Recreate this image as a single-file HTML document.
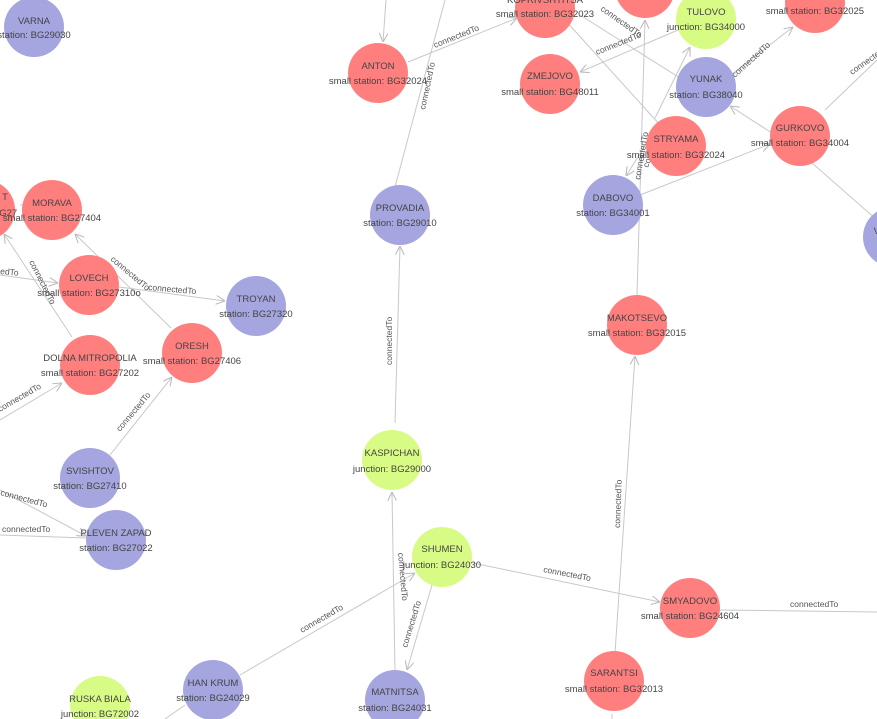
<!DOCTYPE html>
<html><head><meta charset="utf-8"><style>
html,body{margin:0;padding:0;background:#fff;width:877px;height:719px;overflow:hidden}
svg{display:block;font-family:"Liberation Sans",sans-serif}
.e{stroke:#c8c8c8;stroke-width:1;fill:none}
.l{font-size:8.5px;fill:#555}
.n text{font-size:9.5px;fill:#444;text-anchor:middle}
.r{fill:#ff7f7f}.b{fill:#a5a5df}.g{fill:#d8fb86}
</style></head><body>
<svg width="877" height="719" viewBox="0 0 877 719">
<defs><marker id="a" viewBox="0 0 10 10" refX="10" refY="5" markerWidth="9" markerHeight="9" orient="auto"><path d="M0,0 L10,5 L0,10" fill="none" stroke="#bbb" stroke-width="1.2"/></marker></defs>
<g class="e">
<line x1="386" y1="0" x2="383" y2="42" marker-end="url(#a)"/>
<line x1="445" y1="0" x2="395" y2="187"/>
<line x1="408" y1="62" x2="517" y2="18" marker-end="url(#a)"/>
<line x1="395" y1="423" x2="400" y2="246" marker-end="url(#a)"/>
<line x1="395" y1="670" x2="392" y2="492" marker-end="url(#a)"/>
<line x1="432" y1="585" x2="407" y2="670" marker-end="url(#a)"/>
<line x1="240" y1="675" x2="415" y2="573" marker-end="url(#a)"/>
<line x1="473" y1="563" x2="660" y2="602" marker-end="url(#a)"/>
<line x1="719" y1="610" x2="877" y2="612"/>
<line x1="615" y1="653" x2="635" y2="356" marker-end="url(#a)"/>
<line x1="612" y1="719" x2="612" y2="714"/>
<line x1="637" y1="295" x2="645" y2="20" marker-end="url(#a)"/>
<line x1="640" y1="195" x2="770" y2="144" marker-end="url(#a)"/>
<line x1="727" y1="78" x2="793" y2="27" marker-end="url(#a)"/>
<line x1="825" y1="110" x2="877" y2="60"/>
<line x1="775" y1="135" x2="730" y2="106" marker-end="url(#a)"/>
<line x1="812" y1="163" x2="877" y2="220"/>
<line x1="678" y1="30" x2="580" y2="72" marker-end="url(#a)"/>
<line x1="565" y1="20" x2="660" y2="125"/>
<line x1="580" y1="15" x2="680" y2="78"/>
<line x1="655" y1="118" x2="690" y2="47" marker-end="url(#a)"/>
<line x1="660" y1="122" x2="626" y2="176" marker-end="url(#a)"/>
<line x1="72" y1="337" x2="4" y2="234" marker-end="url(#a)"/>
<line x1="171" y1="328" x2="75" y2="234" marker-end="url(#a)"/>
<line x1="119" y1="287" x2="225" y2="301" marker-end="url(#a)"/>
<line x1="0" y1="275" x2="58" y2="283" marker-end="url(#a)"/>
<line x1="0" y1="420" x2="62" y2="383" marker-end="url(#a)"/>
<line x1="110" y1="455" x2="172" y2="377" marker-end="url(#a)"/>
<line x1="0" y1="490" x2="86" y2="536" marker-end="url(#a)"/>
<line x1="0" y1="535" x2="86" y2="538"/>
<line x1="20" y1="205" x2="25" y2="205"/>
<line x1="165" y1="719" x2="185" y2="705"/>
</g>
<g class="l">
<text transform="translate(435,48) rotate(-22)">connectedTo</text>
<text transform="translate(425,110) rotate(-78)">connectedTo</text>
<text transform="translate(392,365) rotate(-90)">connectedTo</text>
<text transform="translate(398,553) rotate(85)">connectedTo</text>
<text transform="translate(407,648) rotate(-73)">connectedTo</text>
<text transform="translate(302,633) rotate(-30)">connectedTo</text>
<text transform="translate(543,572) rotate(11)">connectedTo</text>
<text x="790" y="607">connectedTo</text>
<text transform="translate(620,528) rotate(-88)">connectedTo</text>
<text transform="translate(597,55) rotate(-22)">connectedTo</text>
<text transform="translate(735,78) rotate(-42)">connectedTo</text>
<text transform="translate(852,75) rotate(-35)">connectedTo</text>
<text transform="translate(640,180) rotate(-80)">connectedTo</text>
<text transform="translate(648,168) rotate(-70)">connectedTo</text>
<text transform="translate(600,10) rotate(35)">connectedTo</text>
<text transform="translate(110,260) rotate(40)">connectedTo</text>
<text transform="translate(29,262) rotate(63)">connectedTo</text>
<text transform="translate(148,290) rotate(5)">connectedTo</text>
<text transform="translate(120,432) rotate(-50)">connectedTo</text>
<text transform="translate(0,412) rotate(-30)">connectedTo</text>
<text transform="translate(0,495) rotate(15)">connectedTo</text>
<text x="2" y="532">connectedTo</text>
<text transform="translate(0,274) rotate(5)">edTo</text>
</g>
<g class="n">
<circle class="b" cx="34" cy="27" r="30"/><text x="34" y="24">VARNA</text><text x="34" y="38">station: BG29030</text>
<circle class="r" cx="378" cy="73" r="30"/><text x="378" y="69">ANTON</text><text x="378" y="84">small station: BG32024</text>
<circle class="r" cx="545" cy="8" r="30"/><text x="545" y="3">KOPRIVSHTITSA</text><text x="545" y="17">small station: BG32023</text>
<circle class="r" cx="645" cy="-12" r="30"/>
<circle class="g" cx="706" cy="19" r="30"/><text x="706" y="15">TULOVO</text><text x="706" y="30">junction: BG34000</text>
<circle class="r" cx="815" cy="3" r="30"/><text x="815" y="14">small station: BG32025</text>
<circle class="r" cx="550" cy="84" r="30"/><text x="550" y="79">ZMEJOVO</text><text x="550" y="95">small station: BG48011</text>
<circle class="b" cx="706" cy="87" r="30"/><text x="706" y="82">YUNAK</text><text x="706" y="98">station: BG38040</text>
<circle class="r" cx="676" cy="146" r="30"/><text x="676" y="142">STRYAMA</text><text x="676" y="158">small station: BG32024</text>
<circle class="r" cx="800" cy="136" r="30"/><text x="800" y="131">GURKOVO</text><text x="800" y="146">small station: BG34004</text>
<circle class="b" cx="613" cy="205" r="30"/><text x="613" y="201">DABOVO</text><text x="613" y="216">station: BG34001</text>
<circle class="b" cx="893" cy="237" r="30"/><text x="880" y="234">VE</text>
<circle class="b" cx="400" cy="215" r="30"/><text x="400" y="211">PROVADIA</text><text x="400" y="226">station: BG29010</text>
<circle class="r" cx="-15" cy="210" r="30"/><text x="5" y="200">T</text><text x="5" y="216">BG27</text>
<circle class="r" cx="52" cy="210" r="30"/><text x="52" y="206">MORAVA</text><text x="52" y="221">small station: BG27404</text>
<circle class="r" cx="89" cy="285" r="30"/><text x="89" y="281">LOVECH</text><text x="89" y="296">small station: BG27310o</text>
<circle class="b" cx="256" cy="306" r="30"/><text x="256" y="302">TROYAN</text><text x="256" y="317">station: BG27320</text>
<circle class="r" cx="90" cy="365" r="30"/><text x="90" y="361">DOLNA MITROPOLIA</text><text x="90" y="376">small station: BG27202</text>
<circle class="r" cx="192" cy="353" r="30"/><text x="192" y="349">ORESH</text><text x="192" y="364">small station: BG27406</text>
<circle class="b" cx="90" cy="478" r="30"/><text x="90" y="474">SVISHTOV</text><text x="90" y="489">station: BG27410</text>
<circle class="b" cx="116" cy="540" r="30"/><text x="116" y="536">PLEVEN ZAPAD</text><text x="116" y="551">station: BG27022</text>
<circle class="r" cx="637" cy="325" r="30"/><text x="637" y="321">MAKOTSEVO</text><text x="637" y="336">small station: BG32015</text>
<circle class="g" cx="392" cy="460" r="30"/><text x="392" y="456">KASPICHAN</text><text x="392" y="472">junction: BG29000</text>
<circle class="g" cx="442" cy="557" r="30"/><text x="442" y="552">SHUMEN</text><text x="442" y="568">junction: BG24030</text>
<circle class="r" cx="690" cy="608" r="30"/><text x="690" y="604">SMYADOVO</text><text x="690" y="619">small station: BG24604</text>
<circle class="r" cx="614" cy="681" r="30"/><text x="614" y="676">SARANTSI</text><text x="614" y="692">small station: BG32013</text>
<circle class="b" cx="213" cy="690" r="30"/><text x="213" y="686">HAN KRUM</text><text x="213" y="701">station: BG24029</text>
<circle class="b" cx="395" cy="700" r="30"/><text x="395" y="695">MATNITSA</text><text x="395" y="711">station: BG24031</text>
<circle class="g" cx="100" cy="706" r="30"/><text x="100" y="702">RUSKA BIALA</text><text x="100" y="717">junction: BG72002</text>
</g>
</svg>
</body></html>
